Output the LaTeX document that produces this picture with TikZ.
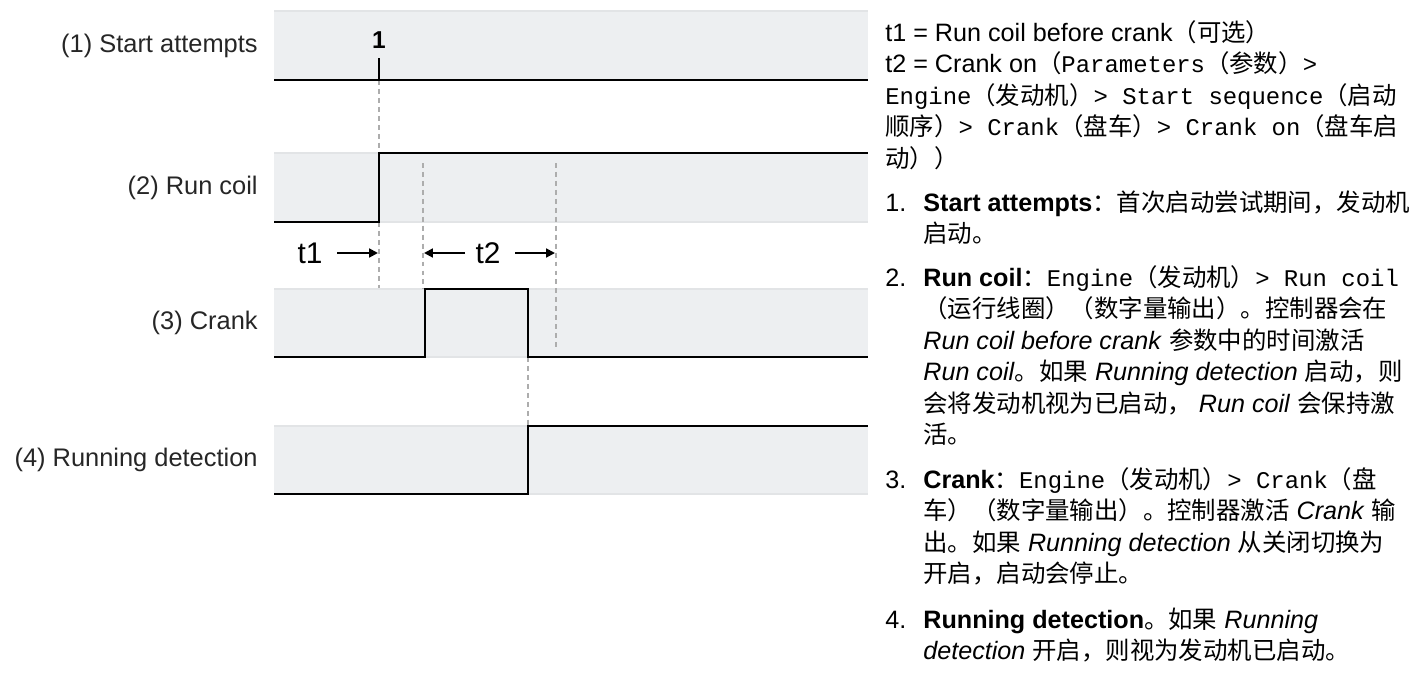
\documentclass[tikz,border=0pt]{standalone}
\usepackage{fontspec}
\setmainfont{Liberation Sans}[Scale=1.03]
\setmonofont{Liberation Mono}[Scale=0.98]
\newfontfamily\cjk{Noto Sans CJK SC}
\usetikzlibrary{arrows.meta,positioning}
\definecolor{cLane}{HTML}{EDEFF1}
\definecolor{cEdge}{HTML}{E2E4E6}
\definecolor{cGuide}{HTML}{ADADAD}
\newcommand{\zh}[1]{{\cjk #1}}
\newcommand{\topstrut}{\rule{0pt}{14pt}}
\tikzset{
  lane/.style={fill=cLane,draw=none},
  laneedge/.style={cEdge,line width=1.1pt},
  sig/.style={line width=1.4pt,black,line join=miter},
  guide/.style={cGuide,line width=.85pt,dash pattern=on 2.8pt off 2.3pt},
  lbl/.style={font=\fontsize{14.05}{16}\selectfont,anchor=east,inner sep=0pt,text=black!85},
  tlbl/.style={font=\fontsize{16.5}{18}\selectfont,inner sep=0pt},
  tarr/.style={-{Triangle[length=5pt,width=5pt]},line width=1.1pt},
  txt/.style={font=\fontsize{13.9}{17.9}\selectfont,align=left,anchor=north west,inner sep=0pt},
}

\begin{document}
\begin{tikzpicture}[x=0.02cm,y=-0.02cm]
  \useasboundingbox (0,0) rectangle (1417,680);
  % lanes
  \foreach \top/\bot in {11/80,153/222,289/357,426/494}{
    \fill[lane] (274,\top) rectangle (868,\bot);
    \draw[laneedge] (274,\top) -- (868,\top);
    \draw[laneedge] (274,\bot) -- (868,\bot);
  }
  \node[lbl] (lab1) at (258,45.5) {(1) Start attempts};
  \node[lbl] (lab2) at (258,187.5) {(2) Run coil};
  \node[lbl] (lab3) at (258,323) {(3) Crank};
  \node[lbl] (lab4) at (258,460) {(4) Running detection};
  % guides
  \draw[guide] (379,80) -- (379,153);
  \draw[guide] (379,222) -- (379,288);
  \draw[guide] (423,163) -- (423,289);
  \draw[guide] (556,163) -- (556,350);
  \draw[guide] (528,357) -- (528,426);
  % signals
  \draw[sig] (274,80) -- (868,80);
  \draw[sig] (379,58) -- (379,80);
  \node[font=\fontsize{13.5}{16}\selectfont\bfseries,inner sep=0pt] (att) at (379,40) {1};
  \draw[sig] (274,222) -- (379,222) -- (379,153) -- (868,153);
  \draw[sig] (274,357) -- (425,357) -- (425,289) -- (528,289) -- (528,357) -- (868,357);
  \draw[sig] (274,494) -- (528,494) -- (528,426) -- (868,426);
  % times
  \node[tlbl] (t1) at (310,253) {t1};
  \node[tlbl] (t2) at (488,253) {t2};
  \coordinate (t1s) at (337,253);
  \coordinate (t1e) at (378,253);
  \coordinate (t2ls) at (465,253);
  \coordinate (t2le) at (424,253);
  \coordinate (t2rs) at (515,253);
  \coordinate (t2re) at (555,253);
  \draw[tarr] (t1s) -- (t1e);
  \draw[tarr] (t2ls) -- (t2le);
  \draw[tarr] (t2rs) -- (t2re);
  % notes
  \node[txt] (tdef) at (885,16.3) {\topstrut t1 = Run coil before crank\zh{（可选）}\\
    t2 = Crank on\zh{（}\texttt{Parameters}\zh{（参数）}\texttt{>}\\
    \texttt{Engine}\zh{（发动机）}\texttt{> Start sequence}\zh{（启动}\\
    \zh{顺序）}\texttt{> Crank}\zh{（盘车）}\texttt{> Crank on}\zh{（盘车启}\\
    \zh{动））}};
  \node[txt] (n1) at (885,186.3) {\topstrut 1.};
  \node[txt] (i1) at (923,186.3) {\topstrut\textbf{Start attempts}\zh{：首次启动尝试期间，发动机}\\
    \zh{启动。}};
  \node[txt] (n2) at (885,261.3) {\topstrut 2.};
  \node[txt] (i2) at (923,261.3) {\topstrut\textbf{Run coil}\zh{：}\texttt{Engine}\zh{（发动机）}\texttt{> Run coil}\\
    \zh{（运行线圈）（数字量输出）。控制器会在}\\
    \textit{Run coil before crank} \zh{参数中的时间激活}\\
    \textit{Run coil}\zh{。如果} \textit{Running detection} \zh{启动，则}\\
    \zh{会将发动机视为已启动，} \textit{Run coil} \zh{会保持激}\\
    \zh{活。}};
  \node[txt] (n3) at (885,463.3) {\topstrut 3.};
  \node[txt] (i3) at (923,463.3) {\topstrut\textbf{Crank}\zh{：}\texttt{Engine}\zh{（发动机）}\texttt{> Crank}\zh{（盘}\\
    \zh{车）（数字量输出）。控制器激活} \textit{Crank} \zh{输}\\
    \zh{出。如果} \textit{Running detection} \zh{从关闭切换为}\\
    \zh{开启，启动会停止。}};
  \node[txt] (n4) at (885,603.3) {\topstrut 4.};
  \node[txt] (i4) at (923,603.3) {\topstrut\textbf{Running detection}\zh{。如果} \textit{Running}\\
    \textit{detection} \zh{开启，则视为发动机已启动。}};
\end{tikzpicture}
\end{document}
